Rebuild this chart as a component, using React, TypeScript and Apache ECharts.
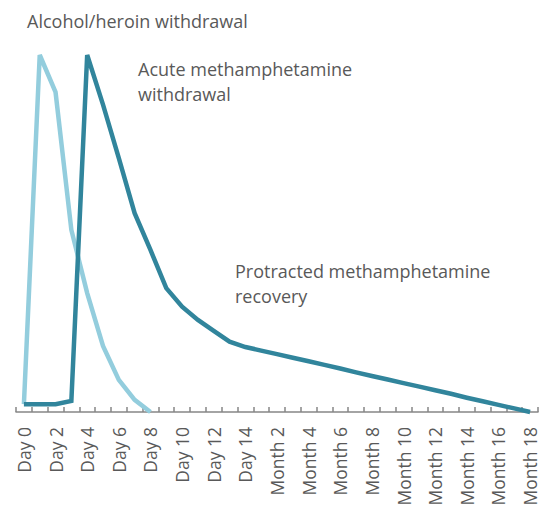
import React, { useEffect, useRef } from "react";
import * as echarts from "echarts";

const dayCategories = ["Day 0","Day 1","Day 2","Day 3","Day 4","Day 5","Day 6","Day 7","Day 8","Day 9","Day 10","Day 11","Day 12","Day 13","Day 14"];
const monthCategories = ["Month 1","Month 2","Month 3","Month 4","Month 5","Month 6","Month 7","Month 8","Month 9","Month 10","Month 11","Month 12","Month 13","Month 14","Month 15","Month 16","Month 17","Month 18"];
const categories = [...dayCategories, ...monthCategories];

// Alcohol/heroin withdrawal (relative intensity)
const alcoholHeroin: (number | null)[] = [2.2, 100, 89.6, 51, 33.3, 18.5, 9, 3.4, 0];

// Methamphetamine withdrawal / recovery (relative intensity)
const methamphetamine: number[] = [
  2.2, 2.2, 2.2, 3.1, 100, 86.1, 71.1, 55.7, 45.4, 34.7, 29.5, 25.8, 22.7, 19.7, 18.2,
  17.2, 16.2, 15.2, 14.2, 13.2, 12.2, 11.1, 10.1, 9.1, 8.1, 7.1, 6.1, 5.1, 4.0, 3.0, 2.0, 1.0, 0,
];

const annotations = [
  { lines: ["Alcohol/heroin withdrawal"], x: 27, y: 8 },
  { lines: ["Acute methamphetamine", "withdrawal"], x: 138, y: 56 },
  { lines: ["Protracted methamphetamine", "recovery"], x: 235, y: 258 },
];

const FONT = "'Open Sans', sans-serif";
const TEXT_COLOR = "#595959";

export default function App() {
  const ref = useRef<HTMLDivElement>(null);
  useEffect(() => {
    if (!ref.current) return;
    const chart = echarts.init(ref.current, undefined, { renderer: "svg" });
    chart.setOption({
      animation: false,
      backgroundColor: "#ffffff",
      grid: { left: 16, right: 7, top: 55, bottom: 97, containLabel: false },
      xAxis: {
        type: "category",
        data: categories,
        boundaryGap: true,
        axisLine: { lineStyle: { color: "#868686", width: 1.5 } },
        axisTick: { show: true, interval: 0, inside: true, length: 5, lineStyle: { color: "#868686", width: 1.5 } },
        axisLabel: {
          interval: 1,
          rotate: 90,
          margin: 15,
          color: TEXT_COLOR,
          fontFamily: FONT,
          fontSize: 17.5,
        },
        splitLine: { show: false },
      },
      yAxis: {
        type: "value",
        min: 0,
        max: 100,
        show: false,
        splitLine: { show: false },
      },
      series: [
        {
          name: "Alcohol/heroin withdrawal",
          type: "line",
          data: alcoholHeroin,
          symbol: "none",
          clip: false,
          lineStyle: { color: "#93CDDD", width: 4.5, join: "miter" },
          z: 2,
        },
        {
          name: "Methamphetamine",
          type: "line",
          data: methamphetamine,
          symbol: "none",
          clip: false,
          lineStyle: { color: "#31859C", width: 4.5, join: "miter" },
          z: 3,
        },
      ],
      graphic: annotations.map((a) => ({
        type: "text",
        left: a.x,
        top: a.y,
        style: {
          text: a.lines.join("\n"),
          fill: TEXT_COLOR,
          font: `18px ${FONT}`,
          lineHeight: 25,
        },
      })),
    });
    return () => chart.dispose();
  }, []);
  return (
    <div
      ref={ref}
      style={{ position: "fixed", left: 0, top: 0, width: 545, height: 509 }}
    />
  );
}
